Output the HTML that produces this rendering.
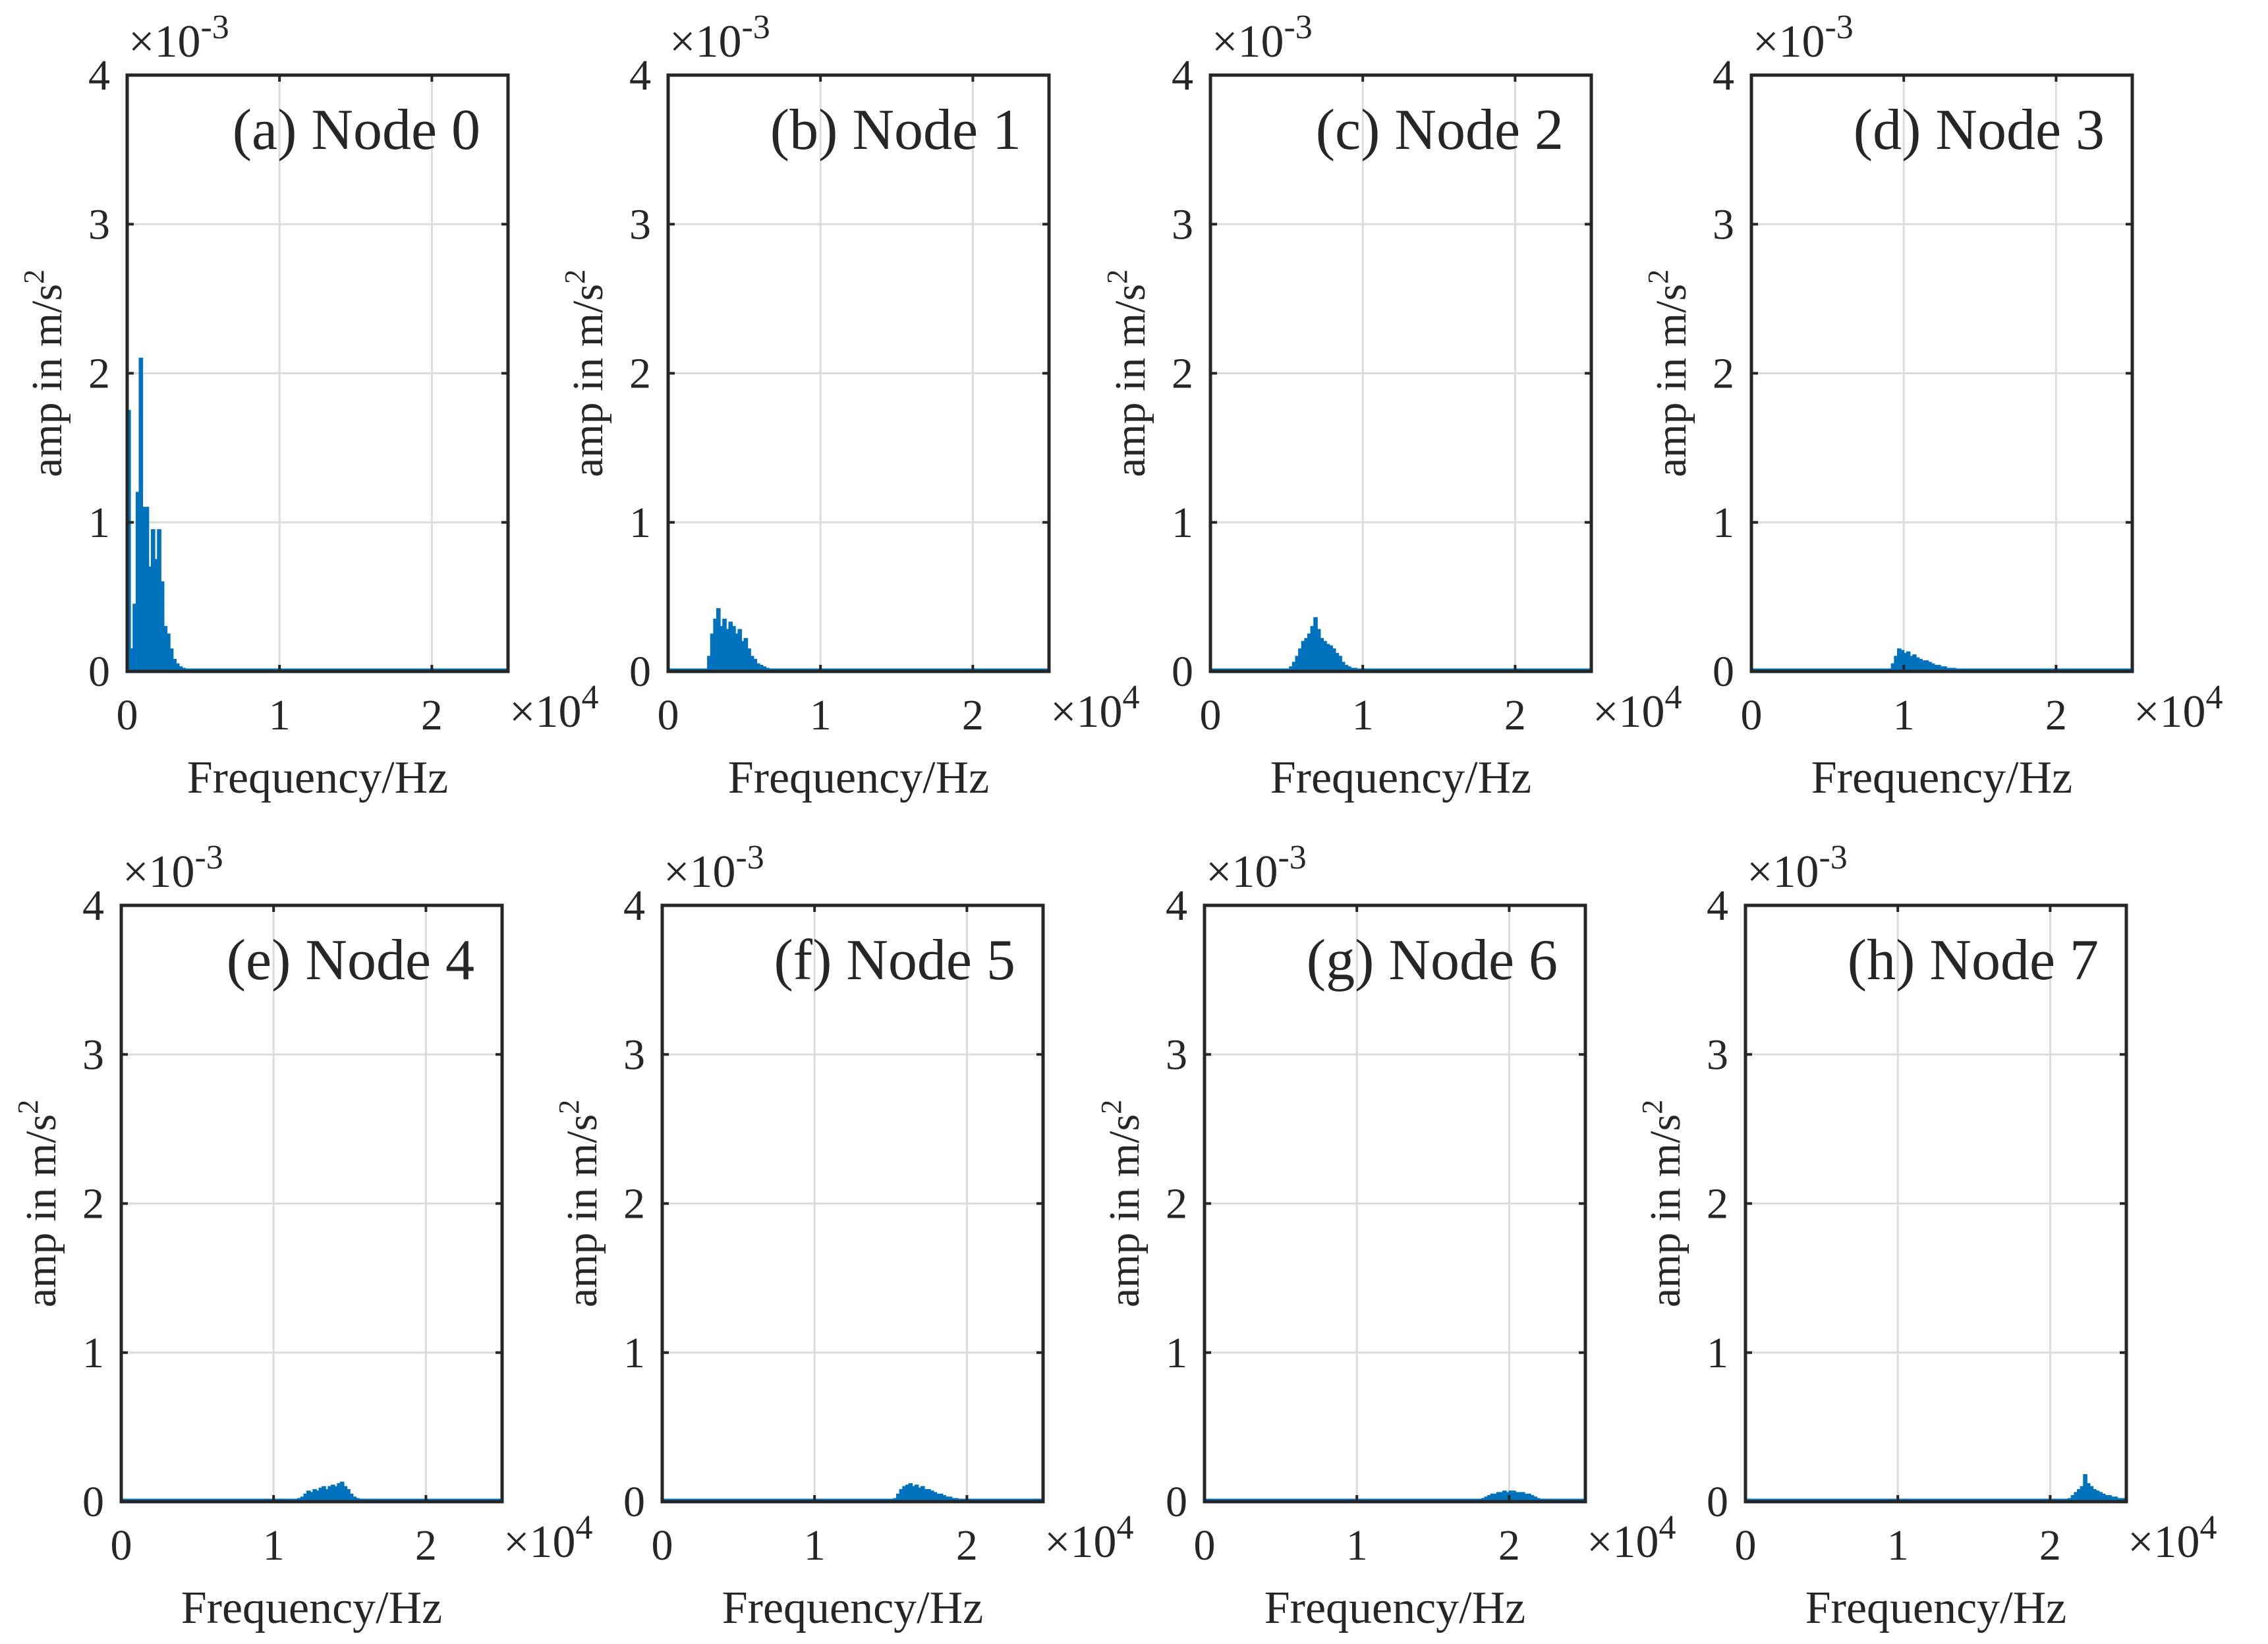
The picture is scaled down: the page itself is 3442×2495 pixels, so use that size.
<!DOCTYPE html>
<html><head><meta charset="utf-8"><style>
html,body{margin:0;padding:0;background:#fff;}
svg{display:block;}
text{font-family:"Liberation Serif",serif;fill:#262626;}
</style></head><body>
<svg id="fig" width="3442" height="2495" viewBox="0 0 3442 2495" xmlns="http://www.w3.org/2000/svg"></svg>
<script>
// Data (amplitude ×1e-3, 200 Hz bins starting at the given frequency)
const titles = ["(a) Node 0","(b) Node 1","(c) Node 2","(d) Node 3","(e) Node 4","(f) Node 5","(g) Node 6","(h) Node 7"];
const startFreqs = [0, 2600, 5200, 9200, 11600, 15200, 18200, 21000];
const binWidth = 200;
const amp0 = [1.75,0.15,0.45,1.2,2.1,1.1,1.1,0.7,0.95,0.75,0.95,0.6,0.3,0.25,0.15,0.08,0.05,0.03,0.02,0.01];
const amp1 = [0.1,0.25,0.35,0.42,0.3,0.35,0.28,0.33,0.3,0.25,0.28,0.2,0.22,0.15,0.1,0.08,0.05,0.04,0.03,0.02,0.01,0.01];
const amp2 = [0.03,0.06,0.1,0.15,0.2,0.22,0.25,0.3,0.36,0.28,0.22,0.2,0.18,0.17,0.15,0.12,0.1,0.06,0.04,0.03,0.02,0.02,0.01,0.01];
const amp3 = [0.05,0.1,0.15,0.14,0.12,0.13,0.1,0.11,0.09,0.08,0.07,0.07,0.06,0.05,0.04,0.04,0.03,0.03,0.02,0.02,0.02,0.01,0.01,0.01,0.01];
const amp4 = [0.02,0.03,0.05,0.07,0.06,0.08,0.07,0.09,0.1,0.08,0.1,0.11,0.1,0.12,0.13,0.1,0.08,0.05,0.03,0.02];
const amp5 = [0.02,0.05,0.08,0.1,0.11,0.12,0.1,0.11,0.09,0.1,0.08,0.08,0.07,0.06,0.05,0.05,0.04,0.03,0.03,0.02,0.02,0.01];
const amp6 = [0.02,0.03,0.04,0.05,0.05,0.06,0.06,0.07,0.06,0.07,0.07,0.06,0.06,0.06,0.05,0.05,0.04,0.03,0.02,0.01,0.01,0.01];
const amp7 = [0.01,0.02,0.04,0.06,0.08,0.1,0.18,0.12,0.1,0.08,0.07,0.06,0.05,0.04,0.04,0.03,0.03,0.02,0.02,0.02];
const amps = [amp0,amp1,amp2,amp3,amp4,amp5,amp6,amp7];
const xTicks = [0,1,2];
const yTicks = [0,1,2,3,4];
const xMax = 2.5e4, yMax = 4;

const lefts = [193,1014,1837,2658,184,1005,1828,2649];
const tops = [114,114,114,114,1374,1374,1374,1374];
const W = 578, H = 905;
const NS = "http://www.w3.org/2000/svg";
const svg = document.getElementById('fig');
function mk(tag, attrs, parent){
  const e = document.createElementNS(NS, tag);
  for (const k in attrs) e.setAttribute(k, attrs[k]);
  (parent||svg).appendChild(e);
  return e;
}
for (let p=0;p<8;p++){
  const L=lefts[p], T=tops[p], B=T+H, R=L+W;
  const xs = f => L + f/xMax*W;
  const ys = v => B - v/yMax*H;
  const g = mk('g',{});
  
  
  xTicks.forEach(t=>{ if(t>0){ const l=mk('line',{x1:xs(t*1e4),x2:xs(t*1e4),y1:T,y2:B,stroke:'#dcdcdc','stroke-width':3},g);
      }});
  yTicks.forEach(t=>{ if(t>0&&t<4){ const l=mk('line',{x1:L,x2:R,y1:ys(t),y2:ys(t),stroke:'#dcdcdc','stroke-width':3},g);
      }});
  const a = amps[p];
  let d = 'M'+xs(startFreqs[p])+','+B;
  a.forEach((v,i)=>{ const f0=startFreqs[p]+i*binWidth, f1=f0+binWidth;
    d += ' L'+xs(f0)+','+ys(v)+' L'+xs(f1)+','+ys(v); });
  d += ' L'+xs(startFreqs[p]+a.length*binWidth)+','+B+' Z';
  const sp = mk('path',{d:d,fill:'#0072bd',stroke:'#0072bd','stroke-width':2},g);
  
  
  const bl = mk('line',{x1:L,x2:R,y1:B-2,y2:B-2,stroke:'#0072bd','stroke-width':5},g);
  
  
  const bx = mk('rect',{x:L,y:T,width:W,height:H,fill:'none',stroke:'#262626','stroke-width':5},g);
  
  
  xTicks.forEach(t=>{
    mk('line',{x1:xs(t*1e4),x2:xs(t*1e4),y1:B,y2:B-10,stroke:'#262626','stroke-width':4},g);
    mk('line',{x1:xs(t*1e4),x2:xs(t*1e4),y1:T,y2:T+10,stroke:'#262626','stroke-width':4},g);
    const tx = mk('text',{x:xs(t*1e4),y:B+88,'font-size':66,'text-anchor':'middle'},g);
    tx.textContent=t;
    
    
  });
  yTicks.forEach(t=>{
    mk('line',{x1:L,x2:L+10,y1:ys(t),y2:ys(t),stroke:'#262626','stroke-width':4},g);
    mk('line',{x1:R,x2:R-10,y1:ys(t),y2:ys(t),stroke:'#262626','stroke-width':4},g);
    const ty = mk('text',{x:L-26,y:ys(t)+22,'font-size':66,'text-anchor':'end'},g);
    ty.textContent=t;
    
    
  });
  const ey = mk('text',{x:L+2,y:T-28,'font-size':70},g);
  ey.innerHTML='×10<tspan font-size="52" dy="-28">-3</tspan>';
  
  
  const ex = mk('text',{x:R+2,y:B+84,'font-size':70},g);
  ex.innerHTML='×10<tspan font-size="52" dy="-28">4</tspan>';
  
  
  const tt = mk('text',{x:R-42,y:T+112,'font-size':88,'text-anchor':'end'},g);
  tt.textContent=titles[p];
  
  
  const xl = mk('text',{x:L+W/2,y:B+184,'font-size':70,'text-anchor':'middle'},g);
  xl.textContent='Frequency/Hz';
  
  
  const cx = L-100, cy = T+H/2;
  const yl = mk('text',{x:cx,y:cy,'font-size':66,'text-anchor':'middle',transform:'rotate(-90 '+cx+' '+cy+')'},g);
  yl.innerHTML='amp in m/s<tspan font-size="44" dy="-27">2</tspan>';
  
  
}
</script>
</body></html>
